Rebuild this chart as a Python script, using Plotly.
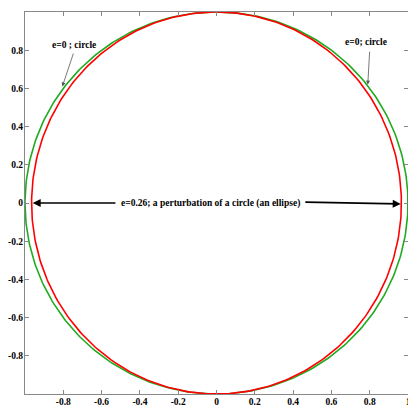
import numpy as np
import plotly.graph_objects as go

# curve parameters
e_circle = 0.0
e_ellipse = 0.26
n_pts = 400

x_ticks = [-0.8, -0.6, -0.4, -0.2, 0, 0.2, 0.4, 0.6, 0.8, 1]
y_ticks = [-0.8, -0.6, -0.4, -0.2, 0, 0.2, 0.4, 0.6, 0.8, 1]

label_circle_left = "e=0 ; circle"
label_circle_right = "e=0; circle"
label_ellipse = "e=0.26; a perturbation of a circle (an ellipse)"

t = np.linspace(0, 2 * np.pi, n_pts)


def conic(ecc):
    # semi-major axis 1 along y, minor axis shrinks with eccentricity
    b = np.sqrt(1 - ecc ** 2)
    return b * np.sin(t), np.cos(t)


xc, yc = conic(e_circle)
xe, ye = conic(e_ellipse)

fig = go.Figure()
fig.add_trace(go.Scatter(x=xc, y=yc, mode="lines", line=dict(color="#1faa1f", width=1.6)))
fig.add_trace(go.Scatter(x=xe, y=ye, mode="lines", line=dict(color="#ff0000", width=1.6)))

serif = "Liberation Serif"
font = dict(family=serif, size=9.5, color="black")

# annotations
fig.add_annotation(x=-0.805, y=0.61, ax=-0.745, ay=0.79, axref="x", ayref="y",
                   text="", showarrow=True, arrowhead=2, arrowsize=1, arrowwidth=0.8,
                   arrowcolor="#555555")
fig.add_annotation(x=-0.745, y=0.825, text="<b>" + label_circle_left + "</b>",
                   showarrow=False, font=font)
fig.add_annotation(x=0.79, y=0.62, ax=0.8, ay=0.8, axref="x", ayref="y",
                   text="", showarrow=True, arrowhead=2, arrowsize=1, arrowwidth=0.8,
                   arrowcolor="#555555")
fig.add_annotation(x=0.78, y=0.845, text="<b>" + label_circle_right + "</b>",
                   showarrow=False, font=font)
fig.add_annotation(x=-0.96, y=0.0, ax=-0.52, ay=0.0, axref="x", ayref="y",
                   text="", showarrow=True, arrowhead=2, arrowsize=1, arrowwidth=1.6,
                   arrowcolor="black")
fig.add_annotation(x=0.962, y=-0.005, ax=0.456, ay=0.005, axref="x", ayref="y",
                   text="", showarrow=True, arrowhead=2, arrowsize=1, arrowwidth=1.6,
                   arrowcolor="black")
fig.add_annotation(x=-0.03, y=0.0, text="<b>" + label_ellipse + "</b>",
                   showarrow=False, font=font)

axis_common = dict(showgrid=False, zeroline=False, showline=True, linecolor="#888888",
                   linewidth=1, mirror="ticks", ticks="inside", ticklen=4,
                   tickcolor="#888888", automargin=False, ticklabelstandoff=-1,
                   tickfont=dict(family=serif, size=9.5, color="black"))

# page body adds 8px offset, so the figure is a bit smaller than the window
fig.update_layout(
    width=404, height=406,
    margin=dict(l=17, r=4, t=4, b=20),
    paper_bgcolor="white", plot_bgcolor="white",
    showlegend=False,
    xaxis=dict(range=[-1, 1], tickvals=x_ticks, ticktext=["<b>%g</b>" % v for v in x_ticks], **axis_common),
    yaxis=dict(range=[-1, 1], tickvals=y_ticks, ticktext=["<b>%g</b>" % v for v in y_ticks], **axis_common),
)

fig.write_html("out.html")
